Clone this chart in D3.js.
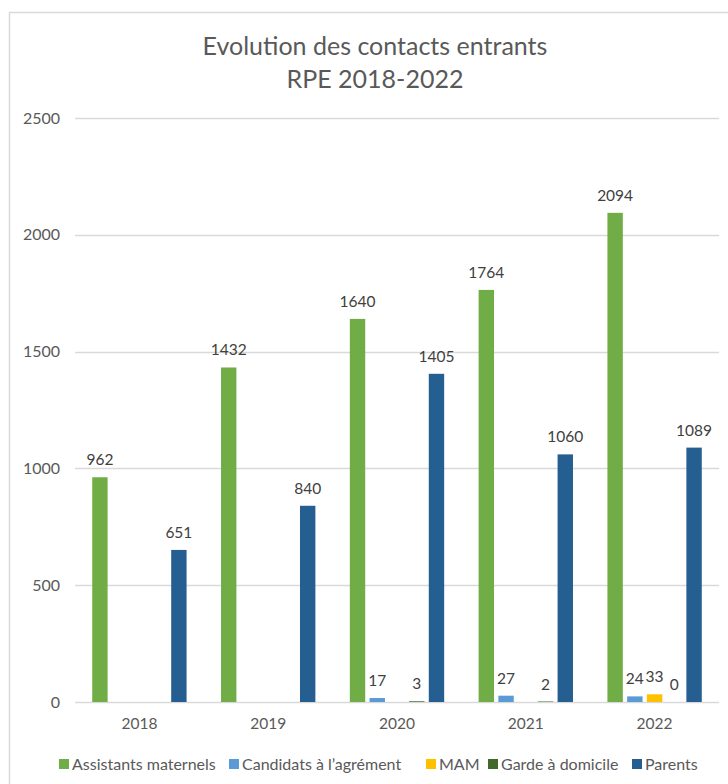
<!DOCTYPE html>
<html><head><meta charset="utf-8">
<script src="https://cdn.jsdelivr.net/npm/d3@7"></script>
<style>body{margin:0;background:#fff}svg{display:block}</style>
</head><body>
<script>
const years = ["2018","2019","2020","2021","2022"];
const seriesNames = ["Assistants maternels","Candidats à l’agrément","MAM","Garde à domicile","Parents"];
const assistants = [962,1432,1640,1764,2094];
const candidats = [null,null,17,27,24];
const mam = [null,null,null,null,33];
const garde = [null,null,3,2,0];
const parents = [651,840,1405,1060,1089];
const yTicks = [0,500,1000,1500,2000,2500];
const colors = ["#70AD47","#5B9BD5","#FFC000","#43682B","#255E91"];
const titleLines = ["Evolution des contacts entrants","RPE 2018-2022"];

(function(){
const seriesValues = [assistants,candidats,mam,garde,parents];
const W=728,H=784;
const svg=d3.select("body").append("svg").attr("width",W).attr("height",H);
const font="Lato, 'Open Sans', sans-serif";

svg.append("rect").attr("x",9.5).attr("y",12.5).attr("width",W+20).attr("height",H+20)
  .attr("fill","#fff").attr("stroke","#D9D9D9").attr("stroke-width",1.5);

const pLeft=75,pRight=719,pTop=118,pBottom=702;
const y=d3.scaleLinear().domain([0,2500]).range([pBottom,pTop]);
const x0=d3.scaleBand().domain(years).range([pLeft,pRight]).padding(0);
const bw=x0.bandwidth();
const x1=d3.scaleBand().domain(d3.range(5)).range([bw*0.1,bw*0.9]).paddingInner(0.22).paddingOuter(0.22);

svg.append("g").selectAll("line").data(yTicks).join("line")
  .attr("x1",pLeft).attr("x2",pRight).attr("y1",d=>Math.round(y(d))+0.5).attr("y2",d=>Math.round(y(d))+0.5)
  .attr("stroke","#D9D9D9").attr("stroke-width",1.3);

const yAxis=d3.axisLeft(y).tickValues(yTicks).tickFormat(d3.format("d")).tickSize(0).tickPadding(0);
const ga=svg.append("g").attr("transform",`translate(${pLeft-15},0)`).call(yAxis);
ga.select(".domain").remove();
ga.selectAll("text").attr("font-family",font).attr("font-size",16).attr("fill","#595959");

const xAxis=d3.axisBottom(x0).tickSize(0).tickPadding(0);
const gx=svg.append("g").attr("transform",`translate(0,${pBottom+16})`).call(xAxis);
gx.select(".domain").remove();
gx.selectAll("text").attr("font-family",font).attr("font-size",15.5).attr("fill","#595959");

seriesValues.forEach((vals,si)=>{
  const g=svg.append("g");
  years.forEach((yr,i)=>{
    const v=vals[i];
    if(v===null) return;
    const bx=x0(yr)+x1(si);
    g.append("rect").attr("x",bx).attr("y",y(v)).attr("width",x1.bandwidth())
      .attr("height",pBottom-y(v)).attr("fill",colors[si]);
    g.append("text").attr("x",bx+x1.bandwidth()/2).attr("y",y(v)-12)
      .attr("text-anchor","middle").attr("font-family",font).attr("font-size",15.5)
      .attr("fill","#404040").text(v);
  });
});

svg.append("g").selectAll("text").data(titleLines).join("text")
  .attr("x",375).attr("y",(d,i)=>55+i*33).attr("text-anchor","middle")
  .attr("font-family",font).attr("font-size",25).attr("fill","#595959").text(d=>d);

const lg=svg.append("g");
const legX=[59,229,426,488,632];
seriesNames.forEach((n,i)=>{
  lg.append("rect").attr("x",legX[i]).attr("y",759).attr("width",10).attr("height",10).attr("fill",colors[i]);
  lg.append("text").attr("x",legX[i]+13).attr("y",770).attr("font-family",font).attr("font-size",16)
    .attr("fill","#595959").text(n);
});
})();
</script>
</body></html>
